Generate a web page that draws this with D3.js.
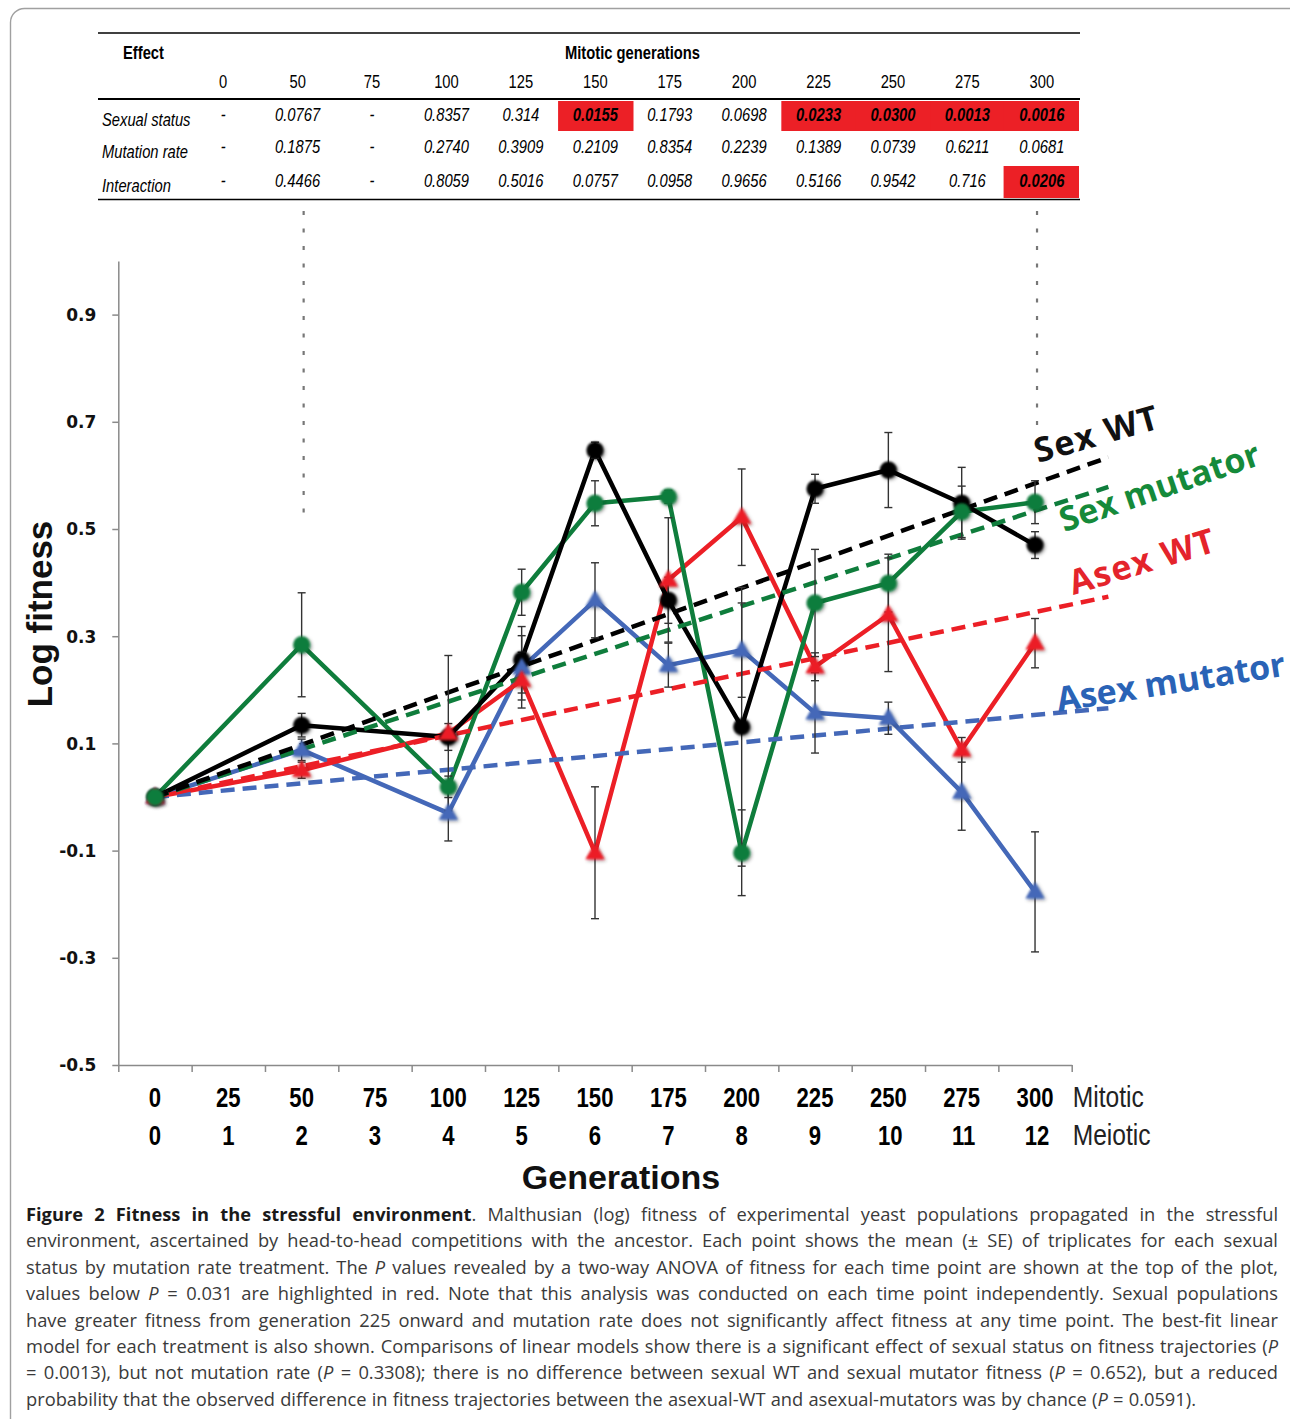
<!DOCTYPE html>
<html><head><meta charset="utf-8">
<script src="https://cdn.jsdelivr.net/npm/d3@7"></script>
<style>body{margin:0;background:#fff}</style>
</head><body>
<svg id="c" width="1290" height="1419" xmlns="http://www.w3.org/2000/svg"></svg>
<script>
// ---------------- DATA ----------------
const gens = [0, 50, 100, 125, 150, 175, 200, 225, 250, 275, 300];
const sexWT      = [0, 0.134, 0.112, 0.256, 0.647, 0.367, 0.131, 0.575, 0.610, 0.548, 0.470];
const sexWTse    = [0, 0.022, 0.025, 0.062, 0.015, 0.043, 0.260, 0.027, 0.070, 0.067, 0.025];
const sexMut     = [0, 0.284, 0.019, 0.382, 0.548, 0.560, -0.104, 0.362, 0.399, 0.532, 0.550];
const sexMutse   = [0, 0.097, 0.020, 0.043, 0.042, 0.012, 0.080, 0.100, 0.054, 0.048, 0.040];
const asexWT     = [0, 0.050, 0.119, 0.218, -0.104, 0.405, 0.522, 0.243, 0.340, 0.088, 0.287];
const asexWTse   = [0, 0.015, 0.145, 0.052, 0.123, 0.116, 0.090, 0.026, 0.106, 0.023, 0.046];
const asexMut    = [0, 0.088, -0.030, 0.241, 0.367, 0.246, 0.274, 0.157, 0.147, 0.009, -0.177];
const asexMutse  = [0, 0.020, 0.052, 0.060, 0.070, 0.041, 0.088, 0.075, 0.030, 0.071, 0.112];

const seriesNames  = ["Asex mutator", "Asex WT", "Sex mutator", "Sex WT"];
const fitSlopes    = [0.00051, 0.00115, 0.00178, 0.00195];   // per mitotic generation, intercept 0
const fitEndGen    = 325;

const yTicks = [-0.5, -0.3, -0.1, 0.1, 0.3, 0.5, 0.7, 0.9];
const mitoticLabels = ["0","25","50","75","100","125","150","175","200","225","250","275","300"];
const meioticLabels = ["0","1","2","3","4","5","6","7","8","9","10","11","12"];

// table
const tableCols = ["0","50","75","100","125","150","175","200","225","250","275","300"];
const tableRows = ["Sexual status", "Mutation rate", "Interaction"];
const pSexual   = ["-","0.0767","-","0.8357","0.314","0.0155","0.1793","0.0698","0.0233","0.0300","0.0013","0.0016"];
const pMutation = ["-","0.1875","-","0.2740","0.3909","0.2109","0.8354","0.2239","0.1389","0.0739","0.6211","0.0681"];
const pInteract = ["-","0.4466","-","0.8059","0.5016","0.0757","0.0958","0.9656","0.5166","0.9542","0.716","0.0206"];
const pThreshold = 0.031;

// label annotations (gen, value, angle)
const labelGen   = [308, 313, 310, 301];
const labelVal   = [0.159, 0.377, 0.494, 0.623];
const labelAngle = [-9, -17, -19, -16];

// dotted guide lines from table
const guideGens = [50, 300];
const guideEnd  = [0.507, 0.694];

const captionLines = [
 "**Figure 2 Fitness in the stressful environment**. Malthusian (log) fitness of experimental yeast populations propagated in the stressful",
 "environment, ascertained by head-to-head competitions with the ancestor. Each point shows the mean (± SE) of triplicates for each sexual",
 "status by mutation rate treatment. The _P_ values revealed by a two-way ANOVA of fitness for each time point are shown at the top of the plot,",
 "values below _P_ = 0.031 are highlighted in red. Note that this analysis was conducted on each time point independently. Sexual populations",
 "have greater fitness from generation 225 onward and mutation rate does not significantly affect fitness at any time point. The best-fit linear",
 "model for each treatment is also shown. Comparisons of linear models show there is a significant effect of sexual status on fitness trajectories (_P_",
 "= 0.0013), but not mutation rate (_P_ = 0.3308); there is no difference between sexual WT and sexual mutator fitness (_P_ = 0.652), but a reduced",
 "probability that the observed difference in fitness trajectories between the asexual-WT and asexual-mutators was by chance (_P_ = 0.0591)."
];

// ---------------- STYLE ----------------
const colors = ["#4468b8", "#ec1f26", "#0f7d3c", "#000000"];
const labelColors = ["#2a63b6", "#e4242b", "#158a3a", "#111111"];
const shapes = ["tri", "tri", "circ", "circ"];
const labelSpacing = [0, 1.5, 0, 1.5];
const markerOrder = [3, 0, 1, 2];
const narrow = 0.82;

const svg = d3.select("#c");
const defs = svg.append("defs");
const f = defs.append("filter").attr("id","sh").attr("x","-50%").attr("y","-50%").attr("width","200%").attr("height","200%");
f.append("feGaussianBlur").attr("in","SourceGraphic").attr("stdDeviation",0.9).attr("result","b");
f.append("feDropShadow").attr("in","b").attr("dx",1.5).attr("dy",1.5).attr("stdDeviation",1.4).attr("flood-color","#000").attr("flood-opacity",0.45);

// frame
svg.append("rect").attr("x",10.5).attr("y",8.5).attr("width",1310).attr("height",1440).attr("rx",14)
  .attr("fill","none").attr("stroke","#a0a0a0").attr("stroke-width",1.4);

// ---------------- SCALES ----------------
const x = d3.scaleLinear().domain([-12.5, 312.5]).range([118.3, 1071.7]);
const y = d3.scaleLinear().domain([-0.5, 1.0]).range([1065, 261]);
const tx = d3.scaleBand().domain(tableCols).range([186, 1079]);
const tableLeft = 98, tableRight = 1080;

function ntext(sel, xx, yy, txt, opts) {
  const t = sel.append("text")
    .attr("transform", `translate(${xx},${yy}) scale(${narrow},1)`)
    .attr("text-anchor", opts.anchor || "middle")
    .attr("font-family", "Liberation Sans, Arial, sans-serif")
    .attr("font-size", opts.size || 17)
    .attr("font-weight", opts.weight || "normal")
    .attr("font-style", opts.style || "normal")
    .attr("fill", opts.fill || "#000")
    .text(txt);
  return t;
}

// ---------------- TABLE ----------------
const tab = svg.append("g");
const rowCenters = [116, 148, 182];
const rowTop = [101, 133, 166], rowBot = [131, 164, 198];
const pRows = [pSexual, pMutation, pInteract];
pRows.forEach((row, ri) => {
  row.forEach((v, ci) => {
    if (v !== "-" && +v < pThreshold) {
      tab.append("rect").attr("x", tx(tableCols[ci]) - (ci === tableCols.length - 1 ? 1 : 0))
        .attr("y", rowTop[ri]).attr("width", tx.bandwidth() + 1).attr("height", rowBot[ri] - rowTop[ri])
        .attr("fill", "#ec2026");
    }
  });
});
tab.append("line").attr("x1",tableLeft).attr("x2",tableRight).attr("y1",33).attr("y2",33).attr("stroke","#000").attr("stroke-width",1.5);
tab.append("line").attr("x1",tableLeft).attr("x2",tableRight).attr("y1",99).attr("y2",99).attr("stroke","#000").attr("stroke-width",2.2);
tab.append("line").attr("x1",tableLeft).attr("x2",tableRight).attr("y1",199.5).attr("y2",199.5).attr("stroke","#000").attr("stroke-width",1.5);
ntext(tab, 123, 59, "Effect", {anchor:"start", weight:"bold", size:18});
ntext(tab, (tx.range()[0]+tx.range()[1])/2, 59, "Mitotic generations", {weight:"bold", size:18});
tableCols.forEach(c => ntext(tab, tx(c) + tx.bandwidth()/2, 88, c, {size:18}));
tableRows.forEach((r, ri) => {
  ntext(tab, 102, rowCenters[ri] + 10, r, {anchor:"start", style:"italic", size:18});
  pRows[ri].forEach((v, ci) => {
    const sig = v !== "-" && +v < pThreshold;
    ntext(tab, tx(tableCols[ci]) + tx.bandwidth()/2, rowCenters[ri] + 5, v, {style:"italic", size:18, weight: sig ? "bold" : "normal"});
  });
});

// dotted guides
guideGens.forEach((g, i) => {
  svg.append("line").attr("x1", x(g) + 2).attr("x2", x(g) + 2).attr("y1", 211).attr("y2", y(guideEnd[i]))
    .attr("stroke","#777").attr("stroke-width",2.2).attr("stroke-dasharray","4,13.5");
});

// ---------------- AXES ----------------
const axisColor = "#8a8a8a";
const yAxis = svg.append("g").attr("transform", `translate(${x(-12.5)},0)`)
  .call(d3.axisLeft(y).tickValues(yTicks).tickSize(6).tickSizeOuter(0).tickPadding(16).tickFormat(d => d.toFixed(1)));
yAxis.select(".domain").attr("stroke", axisColor).attr("stroke-width", 1.5);
yAxis.selectAll(".tick line").attr("stroke", axisColor).attr("stroke-width", 1.5);
yAxis.selectAll(".tick text").attr("font-family","DejaVu Sans, Verdana, sans-serif").attr("font-weight","bold").attr("font-size",17).attr("fill","#111").attr("dy","0.35em");

const boundaries = d3.range(-12.5, 313, 25);
const xAxis = svg.append("g").attr("transform", `translate(0,${y(-0.5)})`)
  .call(d3.axisBottom(x).tickValues(boundaries).tickSize(7).tickSizeOuter(0).tickFormat(""));
xAxis.select(".domain").attr("stroke", axisColor).attr("stroke-width", 1.5);
xAxis.selectAll(".tick line").attr("stroke", axisColor).attr("stroke-width", 1.5);

const xl = svg.append("g");
mitoticLabels.forEach((l, i) => ntext(xl, x(i*25), 1107, l, {weight:"bold", size:27}));
meioticLabels.forEach((l, i) => ntext(xl, x(i*25) + (i >= 10 ? 2 : 0), 1145, l, {weight:"bold", size:27}));
ntext(xl, x(312.5) + 1, 1107, "Mitotic", {anchor:"start", size:30, fill:"#222"});
ntext(xl, x(312.5) + 1, 1145, "Meiotic", {anchor:"start", size:30, fill:"#222"});

svg.append("text").attr("x", 621).attr("y", 1189).attr("text-anchor","middle")
  .attr("font-family","Liberation Sans, Arial, sans-serif").attr("font-weight","bold").attr("font-size",34).attr("fill","#111")
  .text("Generations");
svg.append("text").attr("transform","translate(52,614) rotate(-90)").attr("text-anchor","middle")
  .attr("font-family","Liberation Sans, Arial, sans-serif").attr("font-weight","bold").attr("font-size",35).attr("fill","#111")
  .text("Log fitness");

// ---------------- SERIES ----------------
const vals = [asexMut, asexWT, sexMut, sexWT];
const ses  = [asexMutse, asexWTse, sexMutse, sexWTse];
const line = d3.line().x(d => x(d[0])).y(d => y(d[1]));
const plot = svg.append("g");

vals.forEach((v, si) => {
  plot.append("path").datum(gens.map((g, i) => [g, v[i]])).attr("d", line)
    .attr("fill","none").attr("stroke", colors[si]).attr("stroke-width", 4.5).attr("stroke-linejoin","round");
});
// best-fit dashed lines
fitSlopes.forEach((s, si) => {
  plot.append("path").datum([[0, 0], [fitEndGen, s * fitEndGen]]).attr("d", line)
    .attr("fill","none").attr("stroke", colors[si]).attr("stroke-width", 4.5).attr("stroke-dasharray","14,8");
});
// error bars
const eb = plot.append("g").attr("stroke","#333").attr("stroke-width",1.4);
vals.forEach((v, si) => {
  gens.forEach((g, i) => {
    const e = ses[si][i];
    if (!e) return;
    const cx = x(g), y1 = y(v[i] - e), y2 = y(v[i] + e);
    eb.append("line").attr("x1",cx).attr("x2",cx).attr("y1",y1).attr("y2",y2);
    eb.append("line").attr("x1",cx-4).attr("x2",cx+4).attr("y1",y1).attr("y2",y1);
    eb.append("line").attr("x1",cx-4).attr("x2",cx+4).attr("y1",y2).attr("y2",y2);
  });
});
// markers
const tri = d3.symbol().type(d3.symbolTriangle).size(160);
markerOrder.forEach(si => {
  const v = vals[si];
  gens.forEach((g, i) => {
    if (shapes[si] === "circ") {
      plot.append("circle").attr("cx", x(g)).attr("cy", y(v[i])).attr("r", 8.5)
        .attr("fill", colors[si]).attr("filter","url(#sh)");
    } else {
      plot.append("path").attr("d", tri()).attr("transform", `translate(${x(g)},${y(v[i]) + 1})`)
        .attr("fill", colors[si]).attr("filter","url(#sh)");
    }
  });
});

// series labels
seriesNames.forEach((n, si) => {
  svg.append("text").attr("transform", `translate(${x(labelGen[si])},${y(labelVal[si])}) rotate(${labelAngle[si]})`)
    .attr("font-family","Open Sans, Liberation Sans, sans-serif").attr("font-weight","bold").attr("font-size",34)
    .attr("letter-spacing", labelSpacing[si])
    .attr("fill", labelColors[si]).text(n);
});

// ---------------- CAPTION ----------------
const capLeft = 26, capRight = 1278, capTop = 1221, capLead = 26.4;
function parseWords(str, state) {
  return str.split(" ").map(w => {
    const segs = [];
    let cur = "";
    for (const ch of w.replace(/\*\*/g, "\u0001")) {
      if (ch === "\u0001" || ch === "_") {
        if (cur) segs.push({t: cur, b: state.b, i: state.i});
        cur = "";
        if (ch === "\u0001") state.b = !state.b; else state.i = !state.i;
      } else cur += ch;
    }
    if (cur) segs.push({t: cur, b: state.b, i: state.i});
    return segs;
  });
}
function addSegs(textSel, segs) {
  segs.forEach(s => {
    textSel.append("tspan").text(s.t)
      .attr("font-weight", s.b ? "bold" : "normal")
      .attr("font-style", s.i ? "italic" : "normal")
      .attr("fill", s.b ? "#1a1a1a" : "#3a3a3a");
  });
}
const cap = svg.append("g").attr("font-family","Open Sans, sans-serif").attr("font-size",18.3);
const st = {b:false, i:false};
captionLines.forEach((ln, li) => {
  const words = parseWords(ln, st);
  const widths = words.map(ws => {
    const t = cap.append("text");
    addSegs(t, ws);
    const w = t.node().getComputedTextLength();
    t.remove();
    return w;
  });
  const total = d3.sum(widths);
  const last = li === captionLines.length - 1;
  const gap = last ? 5.2 : (capRight - capLeft - total) / (words.length - 1);
  let cx = capLeft;
  words.forEach((ws, wi) => {
    const t = cap.append("text").attr("x", cx).attr("y", capTop + li * capLead);
    addSegs(t, ws);
    cx += widths[wi] + gap;
  });
});
</script>
</body></html>
